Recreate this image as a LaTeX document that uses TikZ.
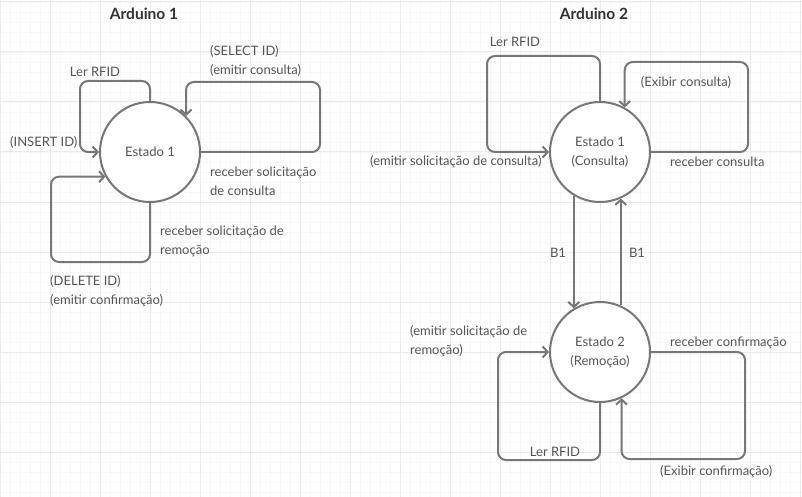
\documentclass[tikz,border=0pt]{standalone}
\usepackage{fontspec}
\setmainfont{Lato}
\usetikzlibrary{arrows.meta}
\definecolor{linec}{HTML}{777777}
\definecolor{textc}{HTML}{555555}
\definecolor{titlec}{HTML}{333333}
\definecolor{gridmaj}{HTML}{EBEBEB}
\definecolor{gridmin}{HTML}{F7F7F7}
\tikzset{
  state/.style={circle, draw=linec, line width=2pt, fill=white, minimum size=100pt, inner sep=0pt, text=textc, align=center, font=\fontsize{13}{19}\selectfont},
  conn/.style={draw=linec, line width=2pt, rounded corners=8pt, -{Straight Barb[length=5pt,width=11pt,line width=2pt]}},
  lbl/.style={text=textc, font=\fontsize{13}{19}\selectfont, inner sep=0pt, align=left},
  ttl/.style={text=titlec, font=\fontsize{15.5}{19}\selectfont\bfseries, inner sep=0pt}
}
\begin{document}
\begin{tikzpicture}[x=1pt,y=-1pt]
\useasboundingbox (0,0) rectangle (802,497);
\fill[white] (0,0) rectangle (802,497);
\foreach \i in {0,10,...,800} \draw[gridmin, line width=0.8pt] (\i,0) -- (\i,497);
\foreach \j in {2,12,...,492} \draw[gridmin, line width=0.8pt] (0,\j) -- (802,\j);
\foreach \i in {0,50,...,800} \draw[gridmaj, line width=1pt] (\i,0) -- (\i,497);
\foreach \j in {2,52,...,452} \draw[gridmaj, line width=1pt] (0,\j) -- (802,\j);

% titles
\node[ttl] (t1) at (144,14) {Arduino 1};
\node[ttl] (t2) at (594,14) {Arduino 2};

% states
\node[state] (c1) at (150,152) {Estado 1};
\node[state] (c2) at (600,152) {Estado 1\\(Consulta)};
\node[state] (c3) at (600,352) {Estado 2\\(Remoção)};

% Arduino 1 loops
\draw[conn] (c1.north) |- ++(-70,-20) |- (c1.west);
\draw[conn] (c1.east) -| (320,82) -| (c1.north east);
\draw[conn] (c1.south) |- ++(-99,59) |- (c1.209);

% Arduino 2 loops
\draw[conn] (c2.north) |- ++(-113,-45) |- (c2.west);
\draw[conn] (c2.east) -| (748,62) -| (c2.61);
\draw[conn] (c2.239) -- (c3.121);
\draw[conn] (c3.66) -- (c2.294);
\draw[conn] (c3.south) |- ++(-102,57) |- (c3.west);
\draw[conn] (c3.east) -| (745,459) -| (c3.295);

% labels Arduino 1
\node[lbl] (l1) at (95,72) {Ler RFID};
\node[lbl, anchor=west] (l2) at (10,142) {(INSERT ID)};
\node[lbl, anchor=west] (l3) at (210,61) {(SELECT ID)\\(emitir consulta)};
\node[lbl, anchor=west] (l4) at (210,181.5) {receber solicitação\\de consulta};
\node[lbl, anchor=west] (l5) at (160,241.5) {receber solicitação de\\remoção};
\node[lbl, anchor=west] (l6) at (50,291) {(DELETE ID)\\(emitir confirmação)};

% labels Arduino 2
\node[lbl] (m1) at (515,42) {Ler RFID};
\node[lbl, anchor=west] (m2) at (370,162) {(emitir solicitação de consulta)};
\node[lbl] (m3) at (686,82) {(Exibir consulta)};
\node[lbl, anchor=west] (m4) at (670,162) {receber consulta};
\node[lbl] (m5) at (558,253) {B1};
\node[lbl] (m6) at (637,253) {B1};
\node[lbl, anchor=west] (m7) at (410,341) {(emitir solicitação de\\remoção)};
\node[lbl, anchor=west] (m8) at (670,343) {receber confirmação};
\node[lbl] (m9) at (555,452) {Ler RFID};
\node[lbl, anchor=west] (m10) at (660,472) {(Exibir confirmação)};
\end{tikzpicture}
\end{document}
